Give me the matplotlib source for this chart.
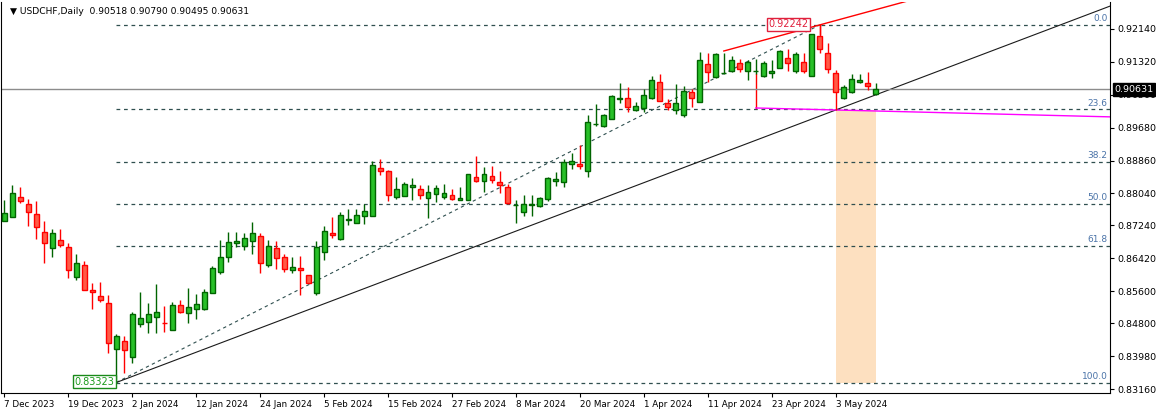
import matplotlib
matplotlib.use("Agg")
import matplotlib.pyplot as plt
import numpy as np
import pandas as pd

dates = [d for d in pd.bdate_range("2023-12-07", "2024-05-10")
         if d not in (pd.Timestamp("2023-12-25"), pd.Timestamp("2024-01-01"))]

opens = [.8735,.8745,.8795,.8778,.8753,.8708,.8668,.8688,.8670,.8596,.8625,.8563,.8548,.8531,.8416,.8436,.8396,.8478,.8483,.8496,.8482,.8463,.8526,.8506,.8516,.8516,.8556,.8608,.8645,.8680,
         .8673,.8685,.8698,.8625,.8668,.8645,.8613,.8617,.8600,.8556,.8658,.8705,.8690,.8738,.8730,.8748,.8748,.8867,.8860,.8795,.8798,.8821,.8815,.8793,.8803,.8795,.8800,.8788,.8788,.8845,
         .8835,.8847,.8832,.8820,.8774,.8758,.8776,.8773,.8790,.8836,.8832,.8877,.8877,.8860,.8976,.8972,.8990,.9039,.9042,.9012,.9017,.9042,.9082,.9029,.9012,.9000,.9057,.9032,.9127,.9094,
         .9103,.9108,.9129,.9109,.9108,.9097,.9105,.9117,.9142,.9108,.9132,.9097,.9197,.9154,.9104,.9042,.9057,.9083,.9079,.90518]
highs = [.8788,.8825,.8820,.8790,.8785,.8735,.8715,.8715,.8680,.8653,.8635,.8581,.8583,.8551,.8453,.8448,.8508,.8558,.8531,.8578,.8523,.8533,.8538,.8568,.8553,.8566,.8623,.8688,.8708,.8708,
         .8705,.8733,.8705,.8688,.8685,.8653,.8645,.8648,.8600,.8685,.8723,.8745,.8758,.8765,.8765,.8778,.8885,.8890,.8862,.8845,.8832,.8842,.8825,.8825,.8825,.8827,.8815,.8820,.8852,.8897,
         .8870,.8872,.8860,.8827,.8788,.8800,.8800,.8795,.8845,.8857,.8890,.8905,.8925,.9000,.9027,.9002,.9049,.9079,.9069,.9032,.9064,.9097,.9102,.9039,.9077,.9072,.9064,.9157,.9154,.9154,
         .9154,.9147,.9139,.9137,.9139,.9134,.9137,.9162,.9164,.9157,.9154,.9202,.92242,.9179,.9112,.9074,.9102,.9102,.9107,.90790]
lows = [.8735,.8745,.8780,.8723,.8690,.8630,.8645,.8670,.8593,.8588,.8563,.8516,.8533,.8406,.83323,.8356,.8381,.8471,.8456,.8456,.8458,.8463,.8506,.8481,.8491,.8513,.8556,.8603,.8633,.8670,
         .8663,.8653,.8605,.8620,.8615,.8608,.8605,.8551,.8581,.8551,.8638,.8693,.8688,.8725,.8730,.8728,.8748,.8850,.8785,.8790,.8798,.8788,.8790,.8743,.8783,.8790,.8788,.8788,.8788,.8832,
         .8808,.8830,.8805,.8778,.8730,.8748,.8748,.8770,.8785,.8822,.8820,.8865,.8865,.8845,.8972,.8970,.8990,.9029,.9007,.9010,.9007,.9039,.9034,.9012,.9002,.8995,.9019,.9032,.9082,.9092,
         .9102,.9107,.9107,.9087,.9102,.9094,.9092,.9117,.9108,.9104,.9104,.9097,.9154,.9104,.9012,.9039,.9054,.9079,.9062,.90495]
closes = [.8755,.8805,.8785,.8758,.8720,.8680,.8705,.8675,.8613,.8630,.8563,.8558,.8538,.8431,.8448,.8413,.8503,.8493,.8503,.8508,.8480,.8526,.8508,.8521,.8528,.8558,.8618,.8645,.8683,.8685,
         .8693,.8705,.8630,.8673,.8643,.8615,.8620,.8614,.8581,.8670,.8710,.8700,.8750,.8740,.8750,.8760,.8875,.8860,.8800,.8815,.8827,.8824,.8800,.8808,.8817,.8805,.8790,.8793,.8852,.8835,
         .8852,.8837,.8825,.8780,.8776,.8778,.8778,.8793,.8842,.8839,.8882,.8885,.8872,.8982,.8978,.9000,.9047,.9042,.9019,.9022,.9049,.9087,.9034,.9019,.9029,.9059,.9042,.9137,.9107,.9152,
         .9105,.9137,.9114,.9132,.9109,.9129,.9108,.9159,.9129,.9152,.9109,.9202,.9164,.9114,.9057,.9069,.9089,.9086,.9072,.90631]

ytick_vals = [0.92140,0.91320,0.90500,0.89680,0.88860,0.88040,0.87240,0.86420,0.85600,0.84800,0.83980,0.83160]
fib_high, fib_low = 0.92242, 0.83323
fib_ratios = [0.0, 23.6, 38.2, 50.0, 61.8, 100.0]
last_price = 0.90631

n = len(opens)
x = np.arange(n)
o = np.array(opens); h = np.array(highs); l = np.array(lows); c = np.array(closes)

fig = plt.figure(figsize=(11.56, 4.13), dpi=100)
ax = fig.add_axes([1/1156, 20/413, 1109/1156, 391/413])
ax.set_xlim(-0.41, 138.3)
ax.set_ylim(0.83062, 0.92813)

ax.fill_between([104, 109], [0.9012]*2, [fib_low]*2, color="#FDE0C0", lw=0, zorder=1)

for r in fib_ratios:
    p = fib_high - r/100*(fib_high - fib_low)
    ax.plot([14, 138.3], [p, p], ls=(0, (3, 3)), color="#2F4F4F", lw=0.9, zorder=2)
    ax.text(138.0, p + 0.0004, f"{r:.1f}", ha="right", va="bottom", fontsize=6.5, color="#4A73A8", zorder=5)
ax.plot([14, 102], [fib_low, fib_high], ls=(0, (3, 3)), color="#2F4F4F", lw=0.8, zorder=2)

xs = np.array([14, 140])
slope = (0.9012 - fib_low) / (104 - 14)
ax.plot(xs, fib_low + slope*(xs-14), color="#1a1a1a", lw=0.8, zorder=2)
slope_r = (fib_high - 0.91591) / (102 - 90)
xr = np.array([90, 140])
ax.plot(xr, 0.91591 + slope_r*(xr-90), color="red", lw=1, zorder=2)
ax.plot([102, 102], [fib_high, 0.9202], color="red", lw=1, zorder=2)
ax.plot([94, 94], [0.9102, 0.9017], color="red", lw=1, zorder=2)
slope_m = (0.8995 - 0.9017) / (138 - 94)
xm = np.array([94, 140])
ax.plot(xm, 0.9017 + slope_m*(xm-94), color="magenta", lw=1, zorder=2)

ax.axhline(last_price, color="#8c8c8c", lw=1, zorder=2)

up = c >= o
for col_face, col_edge, mask in [("#28C028", "#006400", up), ("#FF5A46", "#FF0000", ~up)]:
    ax.vlines(x[mask], l[mask], h[mask], color=col_edge, lw=1, zorder=3)
    bot = np.minimum(o, c)[mask]
    ht = np.maximum(np.abs(c - o)[mask], 0.00012)
    ax.bar(x[mask], ht, bottom=bot, width=0.62, color=col_face, edgecolor=col_edge, lw=1, zorder=4)

ax.text(95.6, fib_high + 0.0002, "0.92242", ha="left", va="center", fontsize=7, color="#E0203C",
        bbox=dict(boxstyle="square,pad=0.15", fc="white", ec="#E0203C", lw=1), zorder=6)
ax.text(13.8, fib_low + 0.0002, "0.83323", ha="right", va="center", fontsize=7, color="#1A9A1A",
        bbox=dict(boxstyle="square,pad=0.15", fc="white", ec="#1A8A1A", lw=1), zorder=6)

ax.spines["top"].set_visible(False)
ax.yaxis.tick_right()
ax.set_yticks(ytick_vals)
ax.set_yticklabels([f"{v:.5f}" for v in ytick_vals], fontsize=6.8)
ax.tick_params(axis="y", direction="out", length=3, pad=2)
ticks = list(range(0, n, 8))
ax.set_xticks(ticks)
ax.set_xticklabels([f"{dates[i].day} {dates[i].strftime('%b %Y')}" for i in ticks], fontsize=6.3, ha="left")
ax.tick_params(axis="x", direction="out", length=3, pad=2)
ax.text(1.004, last_price, f"{last_price:.5f}", transform=ax.get_yaxis_transform(), ha="left", va="center",
        fontsize=6.8, color="white", bbox=dict(boxstyle="square,pad=0.2", fc="black", ec="black"), zorder=10, clip_on=False)

fig.text(10/1156, 1 - 11/413, "\u25BC USDCHF,Daily  0.90518 0.90790 0.90495 0.90631", fontsize=6.6, va="center", ha="left")
fig.savefig("out.png", dpi=100)
